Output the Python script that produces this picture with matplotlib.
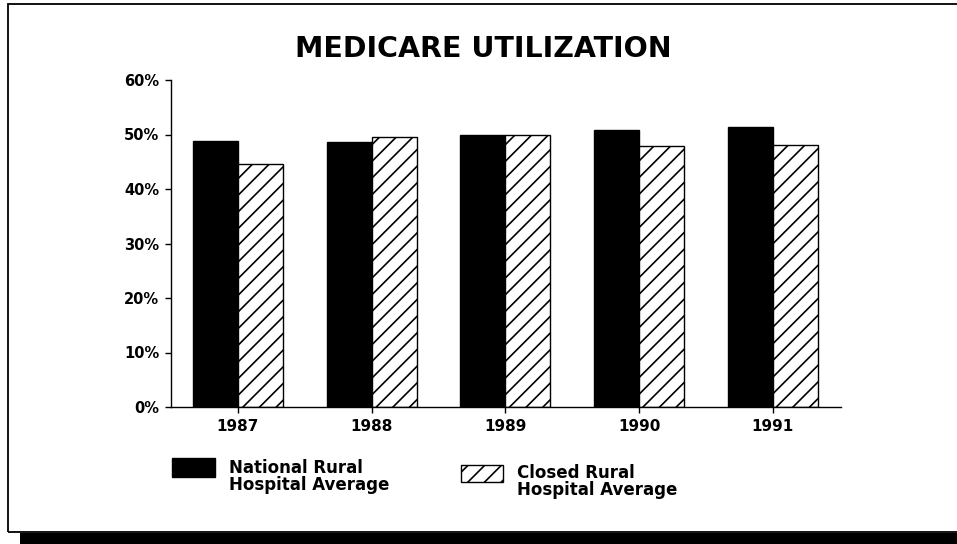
import numpy as np
import matplotlib
matplotlib.use("Agg")
import matplotlib.pyplot as plt
from matplotlib.patches import Rectangle

years = ["1987", "1988", "1989", "1990", "1991"]
national_rural = [48.8, 48.6, 49.9, 50.8, 51.3]  # % medicare utilization
closed_rural = [44.5, 49.6, 50.0, 47.9, 48.0]
series_labels = ["National Rural\nHospital Average", "Closed Rural\nHospital Average"]
y_ticks = [0, 10, 20, 30, 40, 50, 60]

plt.rcParams['font.family'] = 'DejaVu Sans'
plt.rcParams['font.weight'] = 'bold'
plt.rcParams['hatch.linewidth'] = 1.2

W, H = 957, 544
fig = plt.figure(figsize=(W / 100, H / 100), dpi=100)
ax = fig.add_axes([171 / W, 1 - 407 / H, 670 / W, 327 / H])

x = np.arange(len(years))
w = 0.337
ax.bar(x - w / 2, national_rural, w, color='black', edgecolor='black', linewidth=1)
ax.bar(x + w / 2, closed_rural, w, color='white', edgecolor='black', hatch='//', linewidth=1)

ax.set_xlim(-0.5, 4.51)
ax.set_ylim(0, 60)
ax.set_yticks(y_ticks)
ax.set_yticklabels([f"{v}%" for v in y_ticks], fontsize=10.5, fontweight='bold')
ax.set_xticks(x)
ax.set_xticklabels(years, fontsize=11, fontweight='bold')
ax.tick_params(axis='both', direction='out', length=4.5, width=1, pad=4)
for s in ['top', 'right']:
    ax.spines[s].set_visible(False)
for s in ['left', 'bottom']:
    ax.spines[s].set_linewidth(1)

# title
fig.text(483 / W, 1 - 57 / H, "MEDICARE UTILIZATION", ha='center', va='baseline',
         fontsize=20.5, fontweight='bold')

# legend, drawn by hand (two staggered entries)
fig.add_artist(Rectangle((172 / W, 1 - 477 / H), 43 / W, 19 / H, transform=fig.transFigure,
                         facecolor='black', edgecolor='black'))
fig.add_artist(Rectangle((461 / W, 1 - 482 / H), 42 / W, 17 / H, transform=fig.transFigure,
                         facecolor='white', edgecolor='black', hatch='//', linewidth=1))
fig.text(229 / W, 1 - 459 / H, series_labels[0], ha='left', va='top', fontsize=12,
         fontweight='bold', linespacing=0.95)
fig.text(517 / W, 1 - 464 / H, series_labels[1], ha='left', va='top', fontsize=12,
         fontweight='bold', linespacing=0.95)

# page frame and shadow bar
fig.add_artist(Rectangle((8 / W, 1 - 532 / H), 1.0, 528 / H, transform=fig.transFigure,
                         facecolor='none', edgecolor='black', linewidth=1.3))
fig.add_artist(Rectangle((20 / W, 0), 1.0, 11 / H, transform=fig.transFigure,
                         facecolor='black', edgecolor='none'))

fig.savefig("out.png", dpi=100)
